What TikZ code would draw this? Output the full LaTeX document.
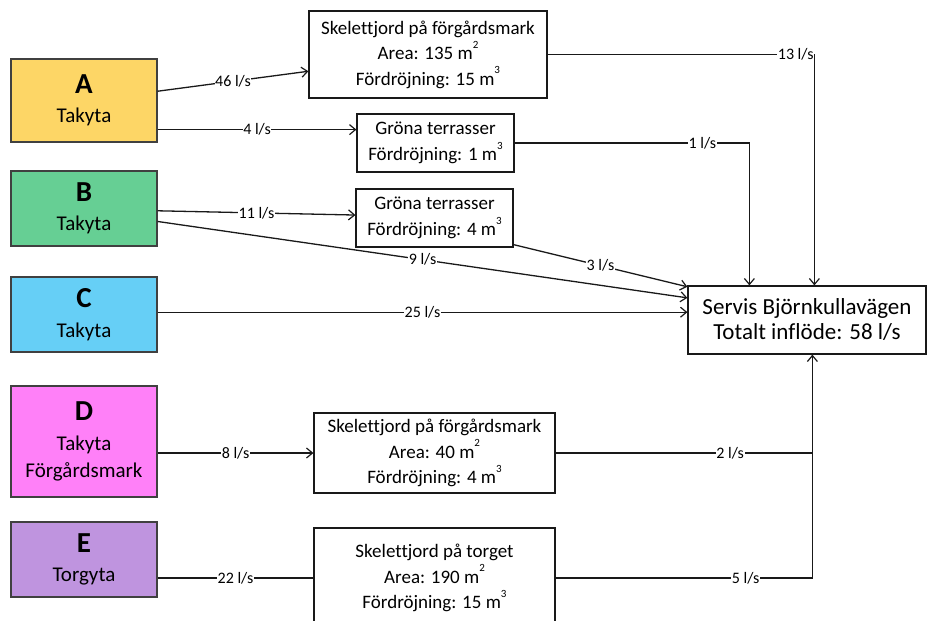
\documentclass[tikz,border=0pt]{standalone}
\usepackage{fontspec}
\setmainfont{Carlito}[Ligatures=CommonOff]
\usetikzlibrary{arrows.meta,calc}
\definecolor{cA}{HTML}{FDD666}
\definecolor{cB}{HTML}{66CF94}
\definecolor{cC}{HTML}{66CFF6}
\definecolor{cD}{HTML}{FF80F8}
\definecolor{cE}{HTML}{BF94DF}
\newcommand\myexp[1]{\raisebox{0.6em}{\fontsize{11}{11}\selectfont #1}}
\begin{document}
\begin{tikzpicture}[x=1pt,y=-1pt,
  src/.style={draw=black!75, line width=1.4pt, inner sep=0pt, align=center, minimum width=146pt, font=\fontsize{21}{29.5}\selectfont},
  proc/.style={draw=black!90, line width=1.2pt, fill=white, inner sep=0pt, align=center, font=\fontsize{19}{25.5}\selectfont},
  flow/.style={line width=1.3pt, draw=black!90},
  arr/.style={flow, -{Straight Barb[length=6pt,width=10pt,line width=1.2pt]}},
  lbl/.style={fill=white, inner sep=0.6pt, font=\fontsize{16}{16}\selectfont}]
\useasboundingbox (0,0) rectangle (927,621);

% source boxes
\node[src, fill=cA, minimum height=83pt] (A) at (84,100.5) {{\fontsize{29}{29}\selectfont\bfseries A}\\Takyta};
\node[src, fill=cB, minimum height=75pt] (B) at (84,208.5) {{\fontsize{29}{29}\selectfont\bfseries B}\\Takyta};
\node[src, fill=cC, minimum height=75pt] (C) at (84,314.5) {{\fontsize{29}{29}\selectfont\bfseries C}\\Takyta};
\node[src, fill=cD, minimum height=111pt, font=\fontsize{21}{27}\selectfont] (D) at (84,441.5) {{\fontsize{29}{29}\selectfont\bfseries D}\\[2.5pt]Takyta\\Förgårdsmark};
\node[src, fill=cE, minimum height=75pt] (E) at (84,559.5) {{\fontsize{29}{29}\selectfont\bfseries E}\\Torgyta};

% process boxes
\node[proc, minimum width=238pt, minimum height=87pt] (box1) at (428,54.5) {Skelettjord på förgårdsmark\\Area: 135 m\myexp{2}\\Fördröjning: 15 m\myexp{3}};
\node[proc, minimum width=157pt, minimum height=58pt] (g1) at (435.5,143) {Gröna terrasser\\Fördröjning: 1 m\myexp{3}};
\node[proc, minimum width=157pt, minimum height=58pt] (g2) at (434.5,218) {Gröna terrasser\\Fördröjning: 4 m\myexp{3}};
\node[proc, minimum width=241pt, minimum height=80pt] (boxD) at (434.5,453) {Skelettjord på förgårdsmark\\Area: 40 m\myexp{2}\\Fördröjning: 4 m\myexp{3}};
\node[proc, minimum width=241pt, minimum height=100pt] (torget) at (434.5,578) {Skelettjord på torget\\Area: 190 m\myexp{2}\\Fördröjning: 15 m\myexp{3}};
\node[proc, minimum width=238pt, minimum height=68pt, font=\fontsize{23}{25}\selectfont] (servis) at (807,320) {Servis Björnkullavägen\\Totalt inflöde: 58 l/s};

% anchor coordinates
\coordinate (a1) at ($(A.north east)!0.39!(A.south east)$);
\coordinate (a2) at ($(A.north east)!0.845!(A.south east)$);
\coordinate (b1) at ($(B.north east)!0.53!(B.south east)$);
\coordinate (b2) at ($(B.north east)!0.67!(B.south east)$);
\coordinate (c1) at ($(C.north east)!0.47!(C.south east)$);
\coordinate (box1in) at ($(box1.north west)!0.69!(box1.south west)$);
\coordinate (g2in) at ($(g2.north west)!0.45!(g2.south west)$);
\coordinate (g2out) at ($(g2.north east)!0.95!(g2.south east)$);
\coordinate (s9) at ($(servis.north west)!0.18!(servis.south west)$);
\coordinate (s3) at ($(servis.north west)!0.02!(servis.south west)$);
\coordinate (in1) at ($(servis.north west)+(62,0)$);
\coordinate (in13) at ($(servis.north west)+(127,0)$);
\coordinate (inb) at ($(servis.south west)+(125,0)$);

% connectors
\draw[arr] (a1) -- node[lbl]{46 l/s} (box1in);
\draw[arr] (a2) -- node[lbl]{4 l/s} (a2 -| g1.west);
\draw[arr] (b1) -- node[lbl]{11 l/s} (g2in);
\draw[arr] (b2) -- node[lbl]{9 l/s} (s9);
\draw[arr] (g2out) -- node[lbl]{3 l/s} (s3);
\draw[arr] (c1) -- node[lbl]{25 l/s} (c1 -| servis.west);
\draw[arr] (box1.east) -- node[lbl,pos=0.93]{13 l/s} (box1.east -| in13) -- (in13);
\draw[arr] (g1.east) -- node[lbl,pos=0.8]{1 l/s} (g1.east -| in1) -- (in1);
\draw[arr] (D.east |- boxD.west) -- node[lbl]{8 l/s} (boxD.west);
\draw[flow] (E.east |- torget.west) -- node[lbl]{22 l/s} (torget.west);
\draw[flow] (boxD.east) -- node[lbl,pos=0.68]{2 l/s} (boxD.east -| inb);
\draw[arr] (torget.east) -- node[lbl,pos=0.74]{5 l/s} (torget.east -| inb) -- (inb);
\end{tikzpicture}
\end{document}
